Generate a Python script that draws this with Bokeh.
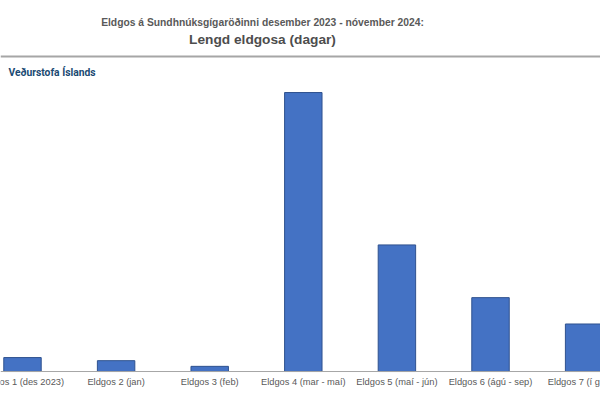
from bokeh.plotting import figure
from bokeh.models import ColumnDataSource, Label, Span
from bokeh.core.properties import value
from bokeh.embed import file_html
from bokeh.resources import INLINE

# ---- data ----
categories = ["Eldgos 1 (des 2023)", "Eldgos 2 (jan)", "Eldgos 3 (feb)",
              "Eldgos 4 (mar - maí)", "Eldgos 5 (maí - jún)",
              "Eldgos 6 (ágú - sep)", "Eldgos 7 (í gangi)"]
days = [2.7, 2.1, 1.0, 54, 24.5, 14.3, 9.2]
title_line1 = "Eldgos á Sundhnúksgígaröðinni desember 2023 - nóvember 2024:"
title_line2 = "Lengd eldgosa (dagar)"
logo_text = "Veðurstofa Íslands"

xpos = list(range(len(categories)))
src = ColumnDataSource(dict(x=xpos, top=days, label=categories,
                            base=[0] * len(xpos)))

W, H = 600, 403
p = figure(width=W, height=H, output_backend="svg", toolbar_location=None,
           x_range=(-0.235, 6.175), y_range=(-6.19, 71.81),
           min_border=0)
p.outline_line_color = None
p.background_fill_color = "white"
p.border_fill_color = "white"
p.xgrid.visible = False
p.ygrid.visible = False
p.xaxis.visible = False
p.yaxis.visible = False

p.vbar(x="x", top="top", bottom=0, width=0.4, source=src,
       fill_color="#4472C4", line_color="#2F528F", line_width=1)

# baseline (category axis line)
p.add_layout(Span(location=0, dimension="width", line_color="#a6a6a6",
                  line_width=1))

# category labels
p.text(x="x", y="base", text="label", source=src, text_align="center",
       text_baseline="top", y_offset=5, text_font=value("Liberation Sans"),
       text_font_size="9.3px", text_color="#595959")

# separator line
p.add_layout(Span(location=60.97, dimension="width", line_color="#a6a6a6",
                  line_width=2))

p.add_layout(Label(x=2.564, y=67.55, text=title_line1, text_align="center",
                   text_baseline="middle", text_font="Liberation Sans",
                   text_font_style="bold", text_font_size="10.3px",
                   text_color="#595959"))
p.add_layout(Label(x=2.564, y=64.26, text=title_line2, text_align="center",
                   text_baseline="middle", text_font="Liberation Sans",
                   text_font_style="bold", text_font_size="13.7px",
                   text_color="#4d4d4d"))
p.add_layout(Label(x=-0.15, y=57.87, text=logo_text, text_align="left",
                   text_baseline="middle", text_font="Roboto",
                   text_font_style="bold", text_font_size="10.3px",
                   text_color="#1b4a72"))

open("out.html", "w").write(file_html(p, INLINE))
